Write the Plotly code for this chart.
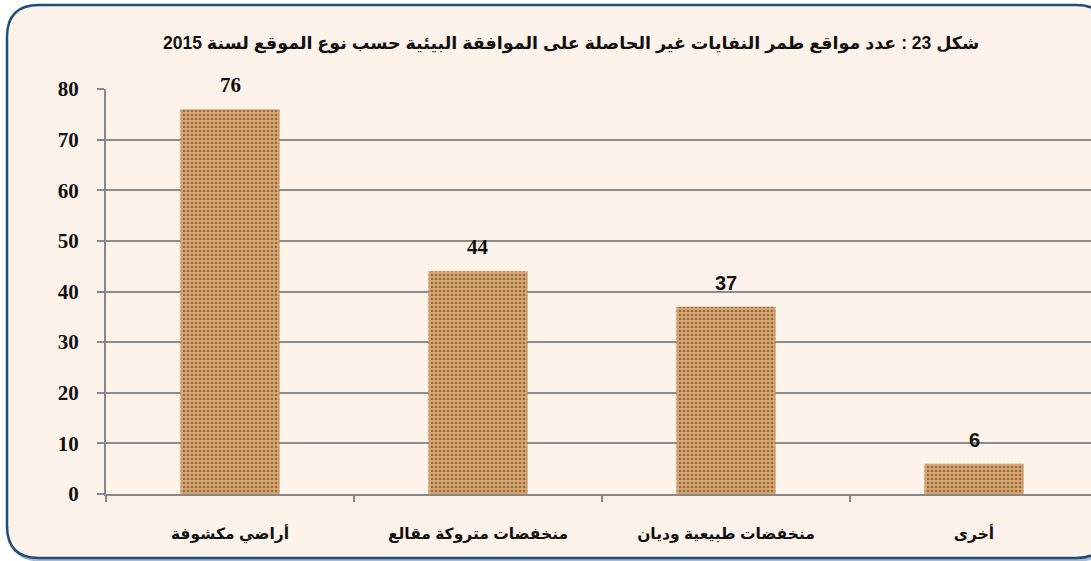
import plotly.graph_objects as go

categories = ["أراضي مكشوفة", "منخفضات متروكة مقالع", "منخفضات طبيعية وديان", "أخرى"]
values = [76, 44, 37, 6]
label_fonts = ["Liberation Serif", "Liberation Serif", "Liberation Sans", "Liberation Sans"]
label_sizes = [21, 21, 20, 20]
y_ticks = [0, 10, 20, 30, 40, 50, 60, 70, 80]
title_text = "شكل 23 : عدد مواقع طمر النفايات غير الحاصلة على الموافقة البيئية حسب نوع الموقع لسنة 2015"

W, H = 1091, 561
ML, MR, MT, MB = 106, 0, 89, 67
PW, PH = W - ML - MR, H - MT - MB

def px(x):
    return (x - ML) / PW

def py(y):
    return (H - MB - y) / PH

def rounded_path(x0, y0, x1, y1, r):
    pts = [
        f"M {px(x0 + r)} {py(y0)}",
        f"L {px(x1 - r)} {py(y0)}",
        f"Q {px(x1)} {py(y0)} {px(x1)} {py(y0 + r)}",
        f"L {px(x1)} {py(y1 - r)}",
        f"Q {px(x1)} {py(y1)} {px(x1 - r)} {py(y1)}",
        f"L {px(x0 + r)} {py(y1)}",
        f"Q {px(x0)} {py(y1)} {px(x0)} {py(y1 - r)}",
        f"L {px(x0)} {py(y0 + r)}",
        f"Q {px(x0)} {py(y0)} {px(x0 + r)} {py(y0)}",
        "Z",
    ]
    return " ".join(pts)

fig = go.Figure()
fig.add_trace(go.Bar(
    x=categories, y=values, width=0.4,
    marker=dict(
        color="#D2A06A",
        line=dict(width=0),
        pattern=dict(shape=".", fgcolor="#9C6A3A", bgcolor="#D6A874", size=4, solidity=0.35, fillmode="replace"),
    ),
    hoverinfo="skip",
))

for c, v, f, s in zip(categories, values, label_fonts, label_sizes):
    fig.add_annotation(x=c, y=v, text=f"<b>{v}</b>", showarrow=False, yshift=24,
                       yanchor="middle", font=dict(family=f + ", DejaVu Sans", size=s, color="#111111"))

fig.add_annotation(xref="paper", yref="paper", x=px(571), y=py(44), text=f"<b>{title_text}</b>",
                   showarrow=False, xanchor="center", yanchor="middle",
                   font=dict(family="Liberation Sans, DejaVu Sans", size=17.5, color="#111111"))

# shadow and border
fig.add_shape(type="path", xref="paper", yref="paper", path=rounded_path(9, 7, 1110, 560, 32),
              line=dict(color="#A9B8CC", width=3), layer="below")
fig.add_shape(type="path", xref="paper", yref="paper", path=rounded_path(7, 5, 1108, 558, 32),
              line=dict(color="#1F4E79", width=2.5), fillcolor="#FDF3EA", layer="below")

fig.update_layout(
    width=W, height=H,
    margin=dict(l=ML, r=MR, t=MT, b=MB),
    paper_bgcolor="#FFFFFF",
    plot_bgcolor="#FCE8DA",
    showlegend=False,
    xaxis=dict(
        type="category", range=[-0.5, -0.5 + PW / 248], tickson="boundaries",
        ticks="outside", ticklen=6, tickcolor="#888888", tickwidth=1.5,
        showline=True, linecolor="#888888", linewidth=2,
        showgrid=False, ticklabelstandoff=24,
        tickfont=dict(family="Liberation Sans, DejaVu Sans", size=15.5, color="#111111", weight="bold"),
    ),
    yaxis=dict(
        range=[0, 80], tickvals=y_ticks, ticks="outside", ticklen=7, tickcolor="#888888", tickwidth=1.5,
        showline=True, linecolor="#888888", linewidth=2,
        showgrid=True, gridcolor="#8C8C8C", gridwidth=1.5, zeroline=False,
        ticklabelstandoff=14,
        tickfont=dict(family="Liberation Serif, DejaVu Serif", size=21, color="#111111", weight="bold"),
    ),
)

fig.write_html("out.html", config={"displayModeBar": False},
               post_script="document.body.style.margin='0';document.body.style.overflow='hidden';")
